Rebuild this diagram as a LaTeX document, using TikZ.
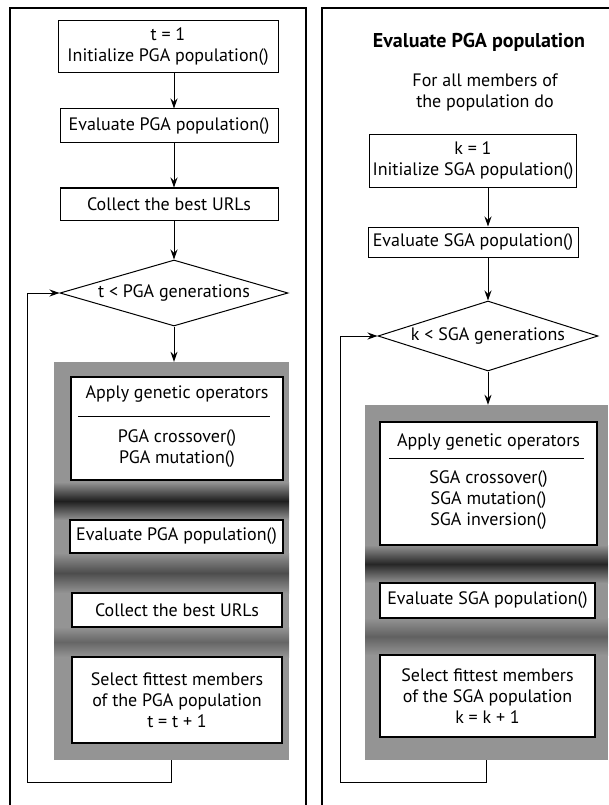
\documentclass[tikz,border=0pt]{standalone}
\usepackage{fontspec}
\setmainfont{PT Sans}
\usetikzlibrary{arrows.meta,shapes.geometric,calc}
\begin{document}
\begin{tikzpicture}[x=1pt,y=-1pt,
  every node/.style={font=\fontsize{18}{21}\selectfont},
  box/.style={draw,line width=1pt,fill=white,align=center,inner sep=0pt},
  ibox/.style={box,line width=1.8pt},
  dia/.style={draw,diamond,line width=1pt,fill=white,inner sep=0pt},
  grayarea/.style={fill=black!42,inner sep=0pt},
  frame/.style={line width=1.2pt},
  arr/.style={line width=1pt,-{Stealth[length=10pt,width=7pt]}}
]
\useasboundingbox (0,0) rectangle (609,805);

% frames
\draw[frame] (10,805) -- (10,8) -- (306,8) -- (306,805);
\draw[frame] (322,805) -- (322,8) -- (609,8);

% ---------- left column ----------
\node[box,minimum width=220,minimum height=52] (b1) at (168,47) {t = 1\\Initialize PGA population()};
\node[box,minimum width=218,minimum height=34] (b2) at (169,126) {Evaluate PGA population()};
\node[box,minimum width=218,minimum height=32] (b3) at (169,204) {Collect the best URLs};
\node[dia,minimum width=228,minimum height=66] (ld) at (174,293) {\makebox[0pt]{t < PGA generations}};
\node[grayarea,minimum width=235,minimum height=398] (lg) at (171.5,561) {};

\shade[top color=black!42,bottom color=black!42,middle color=black!88] (54,482) rectangle (289,520);
\shade[top color=black!42,bottom color=black!42,middle color=black!70] (54,553) rectangle (289,593);
\shade[top color=black!42,bottom color=black!42,middle color=black!60] (54,627) rectangle (289,657);

\node[ibox,minimum width=212,minimum height=103] (la) at (177,428.5) {};
\node (lat) at (177,394) {Apply genetic operators};
\draw[line width=0.8pt] ($(la.north west)+(8,40)$) -- ($(la.north east)+(-14,40)$);
\node[align=center] (lops) at (177,449) {PGA crossover()\\PGA mutation()};
\node[ibox,minimum width=213,minimum height=33] (le) at (176.5,536.5) {Evaluate PGA population()};
\node[ibox,minimum width=210,minimum height=34] (lc) at (177,610) {Collect the best URLs};
\node[ibox,minimum width=210,minimum height=86] (ls) at (177,700) {Select fittest members\\of the PGA population\\t = t + 1};

\draw[arr] (b1.south -| ld) -- (b2.north -| ld);
\draw[arr] (b2.south -| ld) -- (b3.north -| ld);
\draw[arr] (b3.south -| ld) -- (ld.north);
\draw[arr] (ld.south) -- (lg.north -| ld);
\coordinate (lcorner) at (27,782);
\draw[arr] (lg.south) -- (lg.south |- lcorner) -- (lcorner) |- (ld.west);

% ---------- right column ----------
\node[font=\fontsize{20}{22}\selectfont\bfseries] (title) at (479,42) {Evaluate PGA population};
\node[align=center] (forall) at (485,92) {For all members of\\the population do};
\node[box,minimum width=207,minimum height=53] (rb1) at (473,161) {k = 1\\Initialize SGA population()};
\node[box,minimum width=210,minimum height=30] (rb2) at (473,242) {Evaluate SGA population()};
\node[dia,minimum width=220,minimum height=70] (rd) at (488,336) {\makebox[0pt]{k < SGA generations}};
\node[grayarea,minimum width=243,minimum height=355] (rg) at (486.5,582.5) {};

\shade[top color=black!42,bottom color=black!42,middle color=black!85] (365,545) rectangle (608,583);
\shade[top color=black!42,bottom color=black!42,middle color=black!62] (365,618) rectangle (608,655);

\node[ibox,minimum width=217,minimum height=123] (ra) at (488.5,483.5) {};
\node (rat) at (488.5,442) {Apply genetic operators};
\draw[line width=0.8pt] ($(ra.north west)+(10,37)$) -- ($(ra.north east)+(-14,37)$);
\node[align=center] (rops) at (488.5,500) {SGA crossover()\\SGA mutation()\\SGA inversion()};
\node[ibox,minimum width=215,minimum height=35] (re) at (487.5,600.5) {Evaluate SGA population()};
\node[ibox,minimum width=215,minimum height=82] (rs) at (487.5,696) {Select fittest members\\of the SGA population\\k = k + 1};

\draw[arr] (rb1.south -| rd) -- (rb2.north -| rd);
\draw[arr] (rb2.south -| rd) -- (rd.north);
\draw[arr] (rd.south) -- (rg.north -| rd);
\coordinate (rcorner) at (340,782);
\draw[arr] (rg.south) -- (rg.south |- rcorner) -- (rcorner) |- (rd.west);
\end{tikzpicture}
\end{document}
